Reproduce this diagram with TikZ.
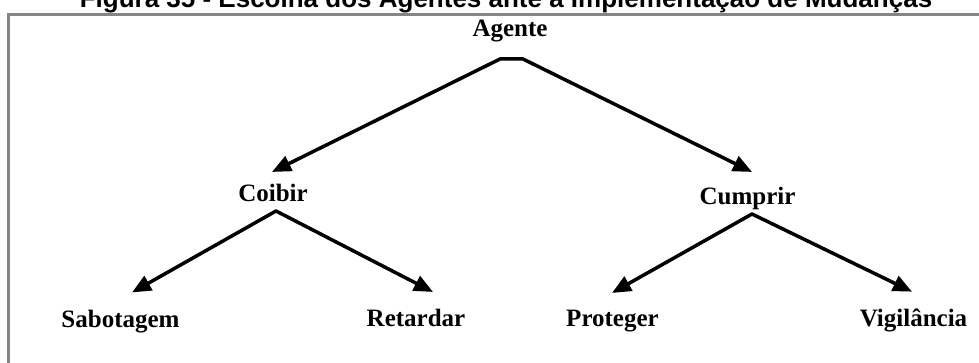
\documentclass[tikz,border=0pt]{standalone}
\usepackage{fontspec}
\setmainfont{Liberation Serif}
\newfontfamily\titlefont{Liberation Sans}
\usetikzlibrary{arrows.meta}
\definecolor{framegray}{RGB}{133,133,133}
\begin{document}
\begin{tikzpicture}[x=1pt,y=-1pt,
  term/.style={font=\fontsize{25}{30}\selectfont\bfseries, inner sep=0pt, anchor=base},
  branch/.style={line width=3.5pt, line cap=round, line join=round},
  twohead/.style={branch, {Triangle[length=19pt,width=16pt]}-{Triangle[length=19pt,width=16pt]}},
]
\useasboundingbox (0,0) rectangle (979,363);
\clip (0,0) rectangle (979,363);
\fill[white] (0,0) rectangle (979,363);

% caption and frame
\node[font=\titlefont\fontsize{26}{30}\selectfont\bfseries, anchor=base, inner sep=0pt]
  (title) at (506,8) {Figura 35 - Escolha dos Agentes ante à Implementação de Mudanças};
\draw[framegray, line width=3pt] (8.5,14.5) rectangle (1000,400);

% tree labels
\node[term] (agente) at (510,37) {Agente};
\node[term] (coibir) at (273,202) {Coibir};
\node[term] (cumprir) at (747.5,205) {Cumprir};
\node[term] (sab) at (120.5,327) {Sabotagem};
\node[term] (ret) at (416,326) {Retardar};
\node[term] (prot) at (612.5,326) {Proteger};
\node[term] (vig) at (913.5,326) {Vigilância};

% branch points
\coordinate (agL) at (500,59);
\coordinate (agR) at (523,59);
\coordinate (cbP) at (276,211);
\coordinate (cuP) at (752,214);

% connectors
\draw[twohead] ([xshift=-1pt,yshift=12.5pt]coibir.north) -- (agL) -- (agR)
  -- ([xshift=4.5pt,yshift=15.5pt]cumprir.north);
\draw[twohead] ([xshift=11.5pt,yshift=17pt]sab.north) -- (cbP)
  -- ([xshift=17pt,yshift=16.5pt]ret.north);
\draw[twohead] ([xshift=-0.5pt,yshift=16.5pt]prot.north) -- (cuP)
  -- ([xshift=-1.5pt,yshift=16.5pt]vig.north);
\end{tikzpicture}
\end{document}
